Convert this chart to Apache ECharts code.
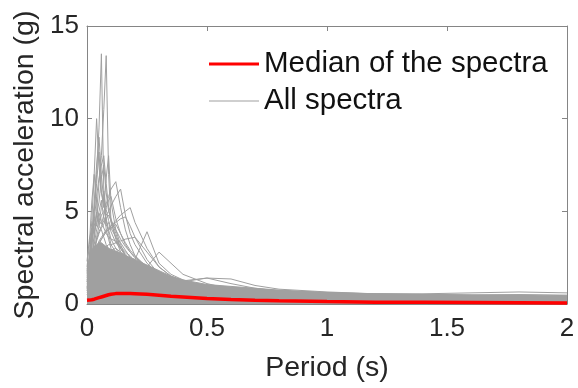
<!DOCTYPE html>
<html>
<head>
<meta charset="utf-8">
<script src="https://cdn.jsdelivr.net/npm/echarts@6/dist/echarts.min.js"></script>
<style>
  html, body { margin: 0; padding: 0; background: #fff; }
  #chart { width: 578px; height: 388px; }
</style>
</head>
<body>
<div id="chart"></div>
<script>
// periods (s) shared by every spectrum
const periods = [0, 0.01, 0.02, 0.03, 0.04, 0.05, 0.06, 0.07, 0.08, 0.09, 0.1, 0.12, 0.14, 0.16, 0.18, 0.2,
    0.25, 0.3, 0.35, 0.4, 0.5, 0.6, 0.7, 0.8, 1.0, 1.2, 1.4, 1.6, 1.8, 2.0];

// upper edge of the dense bundle of spectra
const bundleTop = [1.9, 2.4, 2.9, 3.1, 3.2, 3.3, 3.3, 3.2, 3.1, 3.0, 2.95, 2.85, 2.75, 2.6, 2.5, 2.4,
    2.1, 1.8, 1.5, 1.3, 1.05, 0.95, 0.85, 0.75, 0.62, 0.55, 0.52, 0.5, 0.5, 0.45];

// individual spectra sticking out of the bundle
const spec01 = [1.5, 2.0, 3.5, 5.0, 7.0, 9.5, 13.5, 6.0, 4.0, 3.5, 3.0, 2.6, 2.2, 2.0, 1.8, 1.6, 1.3, 1.0, 0.8, 0.7, 0.55, 0.45, 0.4, 0.35, 0.3, 0.25, 0.22, 0.2, 0.2, 0.18];
const spec02 = [1.2, 1.6, 2.5, 3.8, 5.0, 6.5, 8.0, 10.5, 13.4, 7.0, 4.5, 3.5, 2.8, 2.4, 2.0, 1.8, 1.4, 1.1, 0.9, 0.8, 0.6, 0.5, 0.45, 0.4, 0.35, 0.3, 0.28, 0.25, 0.22, 0.2];
const spec03 = [1.8, 2.5, 4.5, 7.0, 10.0, 7.5, 6.0, 5.5, 4.5, 3.8, 3.2, 2.8, 2.4, 2.1, 1.9, 1.7, 1.3, 1.0, 0.85, 0.7, 0.55, 0.45, 0.4, 0.35, 0.3, 0.27, 0.25, 0.22, 0.2, 0.2];
const spec04 = [1.3, 1.8, 3.0, 5.0, 6.5, 8.2, 6.0, 5.2, 6.8, 8.0, 5.5, 4.0, 3.2, 2.6, 2.2, 2.0, 1.5, 1.2, 1.0, 0.85, 0.65, 0.55, 0.45, 0.4, 0.35, 0.3, 0.28, 0.25, 0.24, 0.22];
const spec05 = [1.0, 1.4, 2.2, 3.5, 4.8, 5.5, 6.8, 7.5, 6.0, 5.0, 4.6, 3.8, 3.0, 2.6, 2.2, 1.9, 1.5, 1.2, 1.0, 0.8, 0.6, 0.5, 0.45, 0.4, 0.32, 0.3, 0.28, 0.26, 0.25, 0.24];
const spec06 = [0.9, 1.2, 1.9, 2.8, 3.6, 4.2, 4.8, 5.0, 5.4, 5.8, 6.2, 6.6, 5.2, 4.0, 3.2, 2.6, 1.9, 1.4, 1.1, 0.9, 0.7, 0.55, 0.5, 0.45, 0.38, 0.33, 0.3, 0.28, 0.26, 0.25];
const spec07 = [0.8, 1.1, 1.7, 2.4, 3.0, 3.4, 3.6, 3.8, 4.0, 4.1, 4.2, 4.4, 4.6, 4.7, 4.2, 3.6, 2.4, 1.6, 1.2, 1.0, 0.75, 0.6, 0.5, 0.45, 0.4, 0.35, 0.32, 0.3, 0.28, 0.26];
const spec08 = [0.6, 0.8, 1.2, 1.6, 2.0, 2.3, 2.5, 2.6, 2.7, 2.8, 2.9, 3.0, 2.8, 2.6, 2.5, 2.4, 3.9, 2.2, 1.6, 1.3, 0.9, 0.7, 0.6, 0.5, 0.42, 0.36, 0.32, 0.3, 0.28, 0.27];
const spec09 = [0.5, 0.7, 1.0, 1.4, 1.7, 2.0, 2.2, 2.3, 2.4, 2.5, 2.4, 2.3, 2.2, 2.1, 2.0, 1.9, 2.0, 2.8, 2.2, 1.6, 1.1, 0.8, 0.65, 0.55, 0.45, 0.4, 0.36, 0.33, 0.3, 0.28];
const spec10 = [0.4, 0.5, 0.8, 1.1, 1.4, 1.6, 1.8, 1.9, 2.0, 2.0, 1.9, 1.8, 1.7, 1.6, 1.5, 1.45, 1.35, 1.3, 1.25, 1.2, 1.4, 1.35, 1.0, 0.8, 0.65, 0.55, 0.5, 0.45, 0.5, 0.48];
const spec11 = [2.0, 3.2, 5.5, 7.0, 5.5, 4.2, 4.0, 3.6, 3.2, 3.0, 2.8, 2.6, 2.4, 2.2, 2.0, 1.8, 1.4, 1.1, 0.9, 0.75, 0.6, 0.5, 0.45, 0.4, 0.35, 0.3, 0.28, 0.26, 0.24, 0.22];
const spec12 = [1.1, 1.5, 2.3, 3.2, 4.0, 4.5, 4.3, 4.8, 5.2, 5.6, 5.8, 4.6, 3.8, 3.2, 2.8, 2.5, 1.9, 1.5, 1.2, 1.0, 0.75, 0.6, 0.52, 0.46, 0.38, 0.34, 0.3, 0.28, 0.26, 0.25];
const spec13 = [0.9, 1.2, 2.0, 2.9, 3.5, 3.9, 4.2, 4.5, 4.8, 5.0, 5.3, 5.8, 6.2, 4.8, 3.8, 3.2, 2.2, 1.6, 1.2, 1.0, 0.8, 0.62, 0.52, 0.46, 0.4, 0.35, 0.32, 0.3, 0.28, 0.26];
const spec14 = [0.7, 1.0, 1.6, 2.2, 2.8, 3.2, 3.5, 3.7, 3.9, 4.0, 4.2, 4.5, 4.8, 5.0, 5.2, 4.4, 3.0, 2.0, 1.5, 1.2, 0.85, 0.65, 0.55, 0.48, 0.4, 0.36, 0.33, 0.3, 0.28, 0.27];
const spec15 = [1.6, 2.3, 3.8, 5.5, 7.5, 9.0, 7.0, 5.5, 4.6, 4.0, 3.5, 3.0, 2.6, 2.3, 2.0, 1.8, 1.4, 1.1, 0.9, 0.75, 0.58, 0.48, 0.42, 0.38, 0.32, 0.28, 0.26, 0.24, 0.22, 0.2];
const spec16 = [1.4, 2.0, 3.2, 4.5, 5.8, 6.8, 7.5, 8.0, 6.5, 5.2, 4.4, 3.6, 3.0, 2.6, 2.3, 2.0, 1.5, 1.2, 1.0, 0.8, 0.62, 0.5, 0.44, 0.4, 0.34, 0.3, 0.28, 0.26, 0.24, 0.23];
const spec17 = [0.9, 1.3, 2.0, 2.8, 3.4, 3.8, 4.1, 4.3, 4.6, 4.8, 4.5, 4.0, 3.5, 3.1, 2.8, 2.5, 2.0, 1.6, 1.3, 1.1, 0.85, 0.7, 0.6, 0.52, 0.45, 0.4, 0.36, 0.34, 0.32, 0.3];
const spec18 = [0.8, 1.1, 1.7, 2.4, 3.0, 3.3, 3.5, 3.7, 3.9, 4.0, 4.1, 4.3, 3.8, 3.3, 2.9, 2.6, 2.0, 1.6, 1.3, 1.1, 1.0, 0.9, 0.8, 0.7, 0.6, 0.55, 0.55, 0.6, 0.65, 0.6];
const spec19 = [0.7, 0.9, 1.4, 2.0, 2.4, 2.7, 2.9, 3.0, 3.1, 3.2, 3.2, 3.3, 3.4, 3.5, 3.55, 3.6, 2.8, 2.0, 1.5, 1.25, 1.4, 1.1, 0.85, 0.7, 0.6, 0.5, 0.45, 0.42, 0.4, 0.38];
const spec20 = [1.7, 2.6, 3.9, 4.6, 4.2, 5.0, 5.6, 4.6, 4.2, 4.4, 3.9, 3.3, 3.0, 2.7, 2.4, 2.2, 1.7, 1.3, 1.1, 0.9, 0.7, 0.58, 0.5, 0.44, 0.37, 0.32, 0.3, 0.28, 0.26, 0.24];
const spec21 = [1.2, 1.9, 3.3, 4.2, 4.9, 4.4, 5.2, 6.1, 5.1, 4.5, 4.1, 3.6, 3.3, 2.9, 2.5, 2.2, 1.8, 1.4, 1.1, 0.95, 0.72, 0.6, 0.52, 0.46, 0.38, 0.34, 0.31, 0.29, 0.27, 0.25];
const spec22 = [2.3, 3.5, 4.1, 3.8, 4.4, 4.9, 4.5, 4.1, 3.8, 3.6, 3.5, 3.4, 3.1, 2.8, 2.6, 2.3, 1.9, 1.5, 1.2, 1.0, 0.78, 0.64, 0.55, 0.48, 0.4, 0.35, 0.32, 0.3, 0.28, 0.26];

const allSpectra = [spec01, spec02, spec03, spec04, spec05, spec06, spec07, spec08, spec09, spec10,
    spec11, spec12, spec13, spec14, spec15, spec16, spec17, spec18, spec19, spec20, spec21, spec22];

// median spectrum
const median = [0.2, 0.21, 0.23, 0.26, 0.3, 0.34, 0.38, 0.42, 0.46, 0.5, 0.53, 0.56, 0.57, 0.57, 0.56, 0.55,
    0.52, 0.47, 0.42, 0.38, 0.3, 0.24, 0.2, 0.17, 0.13, 0.1, 0.09, 0.08, 0.07, 0.06];

const xTicks = [0, 0.5, 1, 1.5, 2];
const yTicks = [0, 5, 10, 15];

const grey = '#a0a0a0';
const font = 'Liberation Sans, Arial, sans-serif';
const toPairs = (vals) => periods.map((p, i) => [p, vals[i]]);

const series = [];
series.push({
    name: 'All spectra', type: 'line', data: toPairs(bundleTop), symbol: 'none', silent: true,
    lineStyle: { width: 1, color: grey }, areaStyle: { color: grey, opacity: 1 }, z: 1
});
allSpectra.forEach((s) => {
    series.push({
        name: 'All spectra', type: 'line', data: toPairs(s), symbol: 'none', silent: true,
        lineStyle: { width: 1, color: grey }, z: 2
    });
});
series.push({
    name: 'Median of the spectra', type: 'line', data: toPairs(median), symbol: 'none', silent: true,
    lineStyle: { width: 3.5, color: '#ff0000' }, z: 5
});

const axisLine = { show: true, onZero: false, lineStyle: { color: '#858585', width: 1 } };
const axisTick = { show: true, inside: true, length: 5, lineStyle: { color: '#858585' } };

const option = {
    animation: false,
    backgroundColor: '#fff',
    textStyle: { fontFamily: font },
    grid: { left: 87, right: 11, top: 26, bottom: 79 },
    legend: [
        {
            data: [{ name: 'Median of the spectra', icon: 'rect', itemStyle: { color: '#ff0000' } }],
            left: 209, top: 49, padding: 0, itemWidth: 50, itemHeight: 3, itemGap: 0,
            textStyle: { fontSize: 29.5, color: '#111', fontFamily: font }
        },
        {
            data: [{ name: 'All spectra', icon: 'rect', itemStyle: { color: grey } }],
            left: 209, top: 86, padding: 0, itemWidth: 50, itemHeight: 1, itemGap: 0,
            textStyle: { fontSize: 29.5, color: '#111', fontFamily: font }
        }
    ],
    xAxis: [
        {
            type: 'value', min: 0, max: 2, interval: 0.5,
            name: 'Period (s)', nameLocation: 'middle', nameGap: 50,
            nameTextStyle: { fontSize: 28.5, color: '#262626' },
            axisLine, axisTick, splitLine: { show: false },
            axisLabel: { fontSize: 26, color: '#262626', margin: 12,
                formatter: (v) => xTicks.includes(v) ? String(v) : '' }
        },
        {
            type: 'value', min: 0, max: 2, interval: 0.5, position: 'top',
            axisLine, axisTick, splitLine: { show: false }, axisLabel: { show: false }
        }
    ],
    yAxis: [
        {
            type: 'value', min: 0, max: 15, interval: 5,
            name: 'Spectral acceleration (g)', nameLocation: 'middle', nameGap: 45,
            nameTextStyle: { fontSize: 28.5, color: '#262626' },
            axisLine, axisTick, splitLine: { show: false },
            axisLabel: { fontSize: 26, color: '#262626', margin: 8,
                formatter: (v) => yTicks.includes(v) ? String(v) : '' }
        },
        {
            type: 'value', min: 0, max: 15, interval: 5, position: 'right',
            axisLine, axisTick, splitLine: { show: false }, axisLabel: { show: false }
        }
    ],
    series: series
};

const myChart = echarts.init(document.getElementById('chart'));
myChart.setOption(option);
</script>
</body>
</html>
